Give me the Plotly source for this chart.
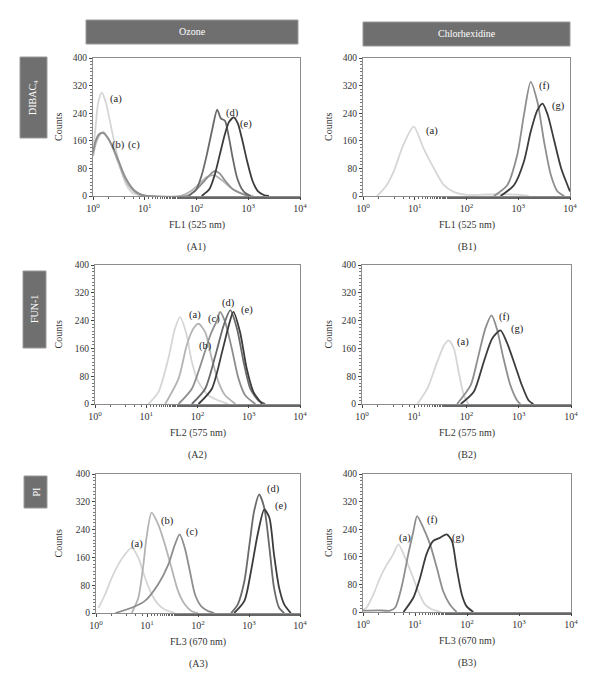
import plotly.graph_objects as go

# ---------------- data (x given as log10 of fluorescence, y = counts) ----------------
# A1  Ozone / DIBAC4  (FL1)
A1_a_log = [0.0, 0.05, 0.1, 0.17, 0.25, 0.35, 0.45, 0.55, 0.65, 0.75, 0.9, 1.2]
A1_a_cnt = [130, 200, 270, 300, 270, 200, 130, 70, 30, 10, 2, 0]
A1_b_log = [0.0, 0.05, 0.12, 0.2, 0.28, 0.38, 0.48, 0.6, 0.7, 0.8, 0.9, 1.0, 1.7, 1.9, 2.05, 2.2, 2.35, 2.5, 2.65, 2.8, 2.95, 3.1]
A1_b_cnt = [115, 150, 175, 185, 170, 140, 100, 55, 28, 12, 4, 0, 0, 15, 35, 55, 60, 45, 25, 12, 4, 0]
A1_c_log = [0.0, 0.05, 0.12, 0.2, 0.3, 0.4, 0.5, 0.6, 0.7, 0.8, 0.9, 1.05, 1.8, 1.95, 2.1, 2.25, 2.35, 2.45, 2.55, 2.7, 2.85, 3.0]
A1_c_cnt = [125, 160, 180, 182, 165, 135, 100, 62, 35, 16, 6, 0, 0, 12, 35, 60, 72, 65, 45, 20, 8, 0]
A1_d_log = [1.85, 2.0, 2.1, 2.2, 2.3, 2.4, 2.47, 2.55, 2.62, 2.7, 2.78, 2.87, 2.95, 3.05]
A1_d_cnt = [0, 20, 60, 120, 190, 250, 225, 218, 175, 110, 55, 22, 8, 0]
A1_e_log = [2.1, 2.25, 2.35, 2.45, 2.55, 2.63, 2.72, 2.8, 2.88, 2.98, 3.08, 3.18, 3.3, 3.4]
A1_e_cnt = [0, 20, 60, 120, 180, 215, 228, 210, 165, 100, 45, 15, 3, 0]

# B1  Chlorhexidine / DIBAC4  (FL1)
B1_a_log = [0.27, 0.45, 0.59, 0.78, 0.98, 1.17, 1.37, 1.56, 1.75, 2.0, 2.3, 2.6, 3.0, 3.2]
B1_a_cnt = [0, 30, 70, 148, 201, 138, 80, 32, 12, 3, 4, 5, 4, 0]
B1_f_log = [2.53, 2.79, 2.98, 3.11, 3.24, 3.37, 3.5, 3.63, 3.76, 3.89]
B1_f_cnt = [0, 32, 119, 235, 331, 273, 157, 61, 13, 0]
B1_g_log = [2.66, 2.92, 3.11, 3.24, 3.37, 3.47, 3.57, 3.7, 3.83, 3.95, 4.0]
B1_g_cnt = [0, 32, 100, 186, 249, 268, 235, 157, 80, 32, 13]

# A2  Ozone / FUN-1  (FL2)
A2_a_log = [1.04, 1.24, 1.43, 1.56, 1.66, 1.79, 1.89, 2.02, 2.21, 2.41, 2.6]
A2_a_cnt = [0, 35, 130, 217, 250, 198, 121, 63, 25, 10, 0]
A2_b_log = [1.37, 1.63, 1.79, 1.92, 2.02, 2.15, 2.28, 2.41, 2.54, 2.74]
A2_b_cnt = [0, 73, 169, 217, 231, 207, 130, 63, 25, 0]
A2_c_log = [1.63, 1.89, 2.08, 2.25, 2.38, 2.44, 2.54, 2.67, 2.8, 2.93, 3.13]
A2_c_cnt = [0, 44, 121, 198, 241, 265, 236, 159, 73, 25, 0]
A2_d_log = [1.89, 2.15, 2.35, 2.51, 2.64, 2.77, 2.9, 3.03, 3.19, 3.32]
A2_d_cnt = [0, 44, 140, 226, 270, 217, 121, 44, 10, 0]
A2_e_log = [2.02, 2.28, 2.48, 2.61, 2.7, 2.83, 2.96, 3.09, 3.26]
A2_e_cnt = [0, 44, 150, 226, 265, 207, 102, 35, 0]

# B2  Chlorhexidine / FUN-1  (FL2)
B2_a_log = [1.06, 1.25, 1.44, 1.57, 1.66, 1.76, 1.85, 1.95, 2.04]
B2_a_cnt = [0, 44, 121, 169, 183, 159, 92, 25, 0]
B2_f_log = [1.82, 2.08, 2.23, 2.36, 2.48, 2.58, 2.71, 2.84, 2.97, 3.03]
B2_f_cnt = [0, 54, 140, 217, 255, 217, 130, 54, 10, 0]
B2_g_log = [1.89, 2.14, 2.33, 2.49, 2.65, 2.77, 2.93, 3.06, 3.19, 3.28]
B2_g_cnt = [0, 35, 121, 188, 212, 178, 111, 54, 10, 0]

# A3  Ozone / PI  (FL3)
A3_a_log = [0.05, 0.18, 0.31, 0.44, 0.57, 0.7, 0.83, 0.96, 1.09, 1.22, 1.35, 1.55]
A3_a_cnt = [15, 54, 102, 140, 169, 188, 159, 102, 54, 25, 10, 0]
A3_b_log = [0.7, 0.83, 0.93, 0.99, 1.09, 1.22, 1.35, 1.48, 1.61, 1.74, 1.87, 2.0]
A3_b_cnt = [0, 44, 140, 217, 289, 255, 198, 130, 63, 25, 6, 0]
A3_c_log = [0.38, 0.7, 0.96, 1.22, 1.42, 1.55, 1.64, 1.74, 1.84, 1.94, 2.06, 2.19, 2.32]
A3_c_cnt = [0, 15, 35, 83, 140, 198, 226, 188, 121, 54, 20, 6, 0]
A3_d_log = [2.65, 2.78, 2.91, 3.01, 3.1, 3.2, 3.3, 3.4, 3.49, 3.59, 3.69]
A3_d_cnt = [0, 25, 92, 198, 293, 341, 302, 188, 73, 15, 0]
A3_e_log = [2.71, 2.91, 3.04, 3.17, 3.3, 3.4, 3.49, 3.59, 3.69, 3.82]
A3_e_cnt = [0, 35, 121, 226, 298, 274, 169, 73, 25, 0]

# B3  Chlorhexidine / PI  (FL3)
B3_a_log = [0.0, 0.07, 0.2, 0.33, 0.46, 0.58, 0.68, 0.81, 0.94, 1.06, 1.19, 1.32, 1.5]
B3_a_cnt = [6, 13, 51, 100, 138, 167, 196, 157, 109, 61, 22, 8, 0]
B3_f_log = [0.0, 0.3, 0.52, 0.62, 0.74, 0.87, 0.97, 1.04, 1.16, 1.29, 1.42, 1.54, 1.67, 1.8]
B3_f_cnt = [4, 5, 4, 13, 71, 167, 235, 278, 244, 196, 128, 61, 22, 0]
B3_g_log = [0.78, 0.97, 1.1, 1.22, 1.35, 1.48, 1.61, 1.71, 1.8, 1.9, 1.99, 2.12]
B3_g_cnt = [0, 42, 100, 167, 206, 215, 225, 206, 128, 51, 17, 0]

# curve labels: (text, log10 x, counts)
A1_labels = [("(a)", 0.45, 281), ("(b)", 0.49, 148), ("(c)", 0.80, 148), ("(d)", 2.69, 240), ("(e)", 2.96, 209)]
B1_labels = [("(a)", 1.34, 189), ("(f)", 3.50, 319), ("(g)", 3.77, 261)]
A2_labels = [("(a)", 1.96, 256), ("(b)", 2.16, 167), ("(c)", 2.33, 245), ("(d)", 2.60, 290), ("(e)", 2.96, 270)]
B2_labels = [("(a)", 1.94, 178), ("(f)", 2.72, 250), ("(g)", 2.97, 216)]
A3_labels = [("(a)", 0.80, 199), ("(b)", 1.40, 265), ("(c)", 1.89, 233), ("(d)", 3.49, 357), ("(e)", 3.62, 308)]
B3_labels = [("(a)", 0.81, 214), ("(f)", 1.33, 267), ("(g)", 1.83, 214)]

x_tick_vals = [1, 10, 100, 1000, 10000]
x_tick_text = ["10<sup>0</sup>", "10<sup>1</sup>", "10<sup>2</sup>", "10<sup>3</sup>", "10<sup>4</sup>"]
y_tick_vals = [0, 80, 160, 240, 320, 400]

column_titles = ["Ozone", "Chlorhexidine"]
row_titles = ["DIBAC<sub>4</sub>", "FUN-1", "PI"]
x_titles = ["FL1 (525 nm)", "FL2 (575 nm)", "FL3 (670 nm)"]

# ---------------- styles ----------------
W, H = 600, 688
FONT = "Liberation Serif, Times New Roman, serif"
shade = {"a": "#d6d6d6", "b": "#b4b4b4", "c": "#8e8e8e", "d": "#6a6a6a", "e": "#3c3c3c"}
shadeB = {"a": "#d6d6d6", "f": "#8e8e8e", "g": "#3c3c3c"}

def py(p):  # pixel from top -> paper y
    return 1 - p / H

def px(p):
    return p / W

panels = [
    ("A1", 0, 0, (93, 300), (58, 196),
     [("a", A1_a_log, A1_a_cnt), ("b", A1_b_log, A1_b_cnt), ("c", A1_c_log, A1_c_cnt),
      ("d", A1_d_log, A1_d_cnt), ("e", A1_e_log, A1_e_cnt)], A1_labels),
    ("B1", 1, 0, (363, 570), (58, 196),
     [("a", B1_a_log, B1_a_cnt), ("f", B1_f_log, B1_f_cnt), ("g", B1_g_log, B1_g_cnt)], B1_labels),
    ("A2", 0, 1, (95, 300), (265, 404),
     [("a", A2_a_log, A2_a_cnt), ("b", A2_b_log, A2_b_cnt), ("c", A2_c_log, A2_c_cnt),
      ("d", A2_d_log, A2_d_cnt), ("e", A2_e_log, A2_e_cnt)], A2_labels),
    ("B2", 1, 1, (362, 571), (265, 404),
     [("a", B2_a_log, B2_a_cnt), ("f", B2_f_log, B2_f_cnt), ("g", B2_g_log, B2_g_cnt)], B2_labels),
    ("A3", 0, 2, (96, 300), (474, 613),
     [("a", A3_a_log, A3_a_cnt), ("b", A3_b_log, A3_b_cnt), ("c", A3_c_log, A3_c_cnt),
      ("d", A3_d_log, A3_d_cnt), ("e", A3_e_log, A3_e_cnt)], A3_labels),
    ("B3", 1, 2, (363, 571), (474, 612),
     [("a", B3_a_log, B3_a_cnt), ("f", B3_f_log, B3_f_cnt), ("g", B3_g_log, B3_g_cnt)], B3_labels),
]

fig = go.Figure()
annotations = []
shapes = []
layout = dict(width=W, height=H, margin=dict(l=0, r=0, t=0, b=0, autoexpand=False),
              paper_bgcolor="white", plot_bgcolor="white", showlegend=False,
              font=dict(family=FONT, size=10, color="#333333"))

def paper_text(x, y, text, size=10, color="#333", angle=0):
    return dict(x=x, y=y, xref="paper", yref="paper", xanchor="center", yanchor="middle",
                text=text, textangle=angle, showarrow=False,
                font=dict(family=FONT, size=size, color=color))

for i, (name, col, row, xr, yr, curves, labels) in enumerate(panels):
    k = i + 1
    xa = "x" if k == 1 else f"x{k}"
    ya = "y" if k == 1 else f"y{k}"
    for key, lx, cnt in curves:
        fig.add_trace(go.Scatter(
            x=[10 ** v for v in lx], y=cnt, mode="lines",
            line=dict(color=(shade if col == 0 else shadeB)[key], width=1.8, shape="spline", smoothing=0.7),
            xaxis=xa, yaxis=ya, hoverinfo="skip"))
    layout[f"xaxis{k if k > 1 else ''}"] = dict(
        domain=[px(xr[0]), px(xr[1])], anchor=ya, type="log", range=[0, 4],
        tickvals=x_tick_vals, ticktext=x_tick_text, ticks="outside", ticklen=3,
        tickcolor="#444", showline=True, linecolor="#8c8c8c", linewidth=1, mirror=True,
        showgrid=False, zeroline=False, automargin=False, tickfont=dict(size=10, color="#333"),
        minor=dict(ticks="outside", ticklen=2, tickcolor="#666", showgrid=False))
    layout[f"yaxis{k if k > 1 else ''}"] = dict(
        domain=[py(yr[1]), py(yr[0])], anchor=xa, range=[0, 400],
        tickvals=y_tick_vals, ticks="outside", ticklen=3, tickcolor="#444",
        showline=True, linecolor="#8c8c8c", linewidth=1, mirror=True,
        showgrid=False, zeroline=False, automargin=False, tickfont=dict(size=9.5, color="#333"),
        minor=dict(ticks="outside", ticklen=2, dtick=10, tickcolor="#777", showgrid=False))
    for txt, lx, c in labels:
        annotations.append(dict(x=lx, y=c, xref=xa, yref=ya, text=txt, showarrow=False,
                                xanchor="center", yanchor="middle",
                                font=dict(family=FONT, size=10.5, color="#222")))
    xc = (xr[0] + xr[1]) / 2
    annotations.append(paper_text(px(xc), py(yr[1] + 29), x_titles[row]))
    annotations.append(paper_text(px(xc), py(yr[1] + 51), f"({name})"))
    annotations.append(paper_text(px(58 if col == 0 else 328), py((yr[0] + yr[1]) / 2),
                                  "Counts", angle=-90))

# column headers
for (x0, x1, y0, y1), t in zip([(86, 298, 20, 44), (363, 570, 22, 46)], column_titles):
    shapes.append(dict(type="rect", xref="paper", yref="paper", x0=px(x0), x1=px(x1),
                       y0=py(y1), y1=py(y0), fillcolor="#6f6f6f", line=dict(color="#9a9a9a", width=1)))
    annotations.append(paper_text(px((x0 + x1) / 2), py((y0 + y1) / 2), t, size=10, color="white"))

# row headers
for (x0, x1, y0, y1), t in zip([(20, 47, 57, 138), (23, 46, 271, 348), (24, 47, 476, 508)], row_titles):
    shapes.append(dict(type="rect", xref="paper", yref="paper", x0=px(x0), x1=px(x1),
                       y0=py(y1), y1=py(y0), fillcolor="#6f6f6f", line=dict(color="#9a9a9a", width=1)))
    annotations.append(paper_text(px((x0 + x1) / 2), py((y0 + y1) / 2), t, size=10,
                                  color="white", angle=-90))

layout["annotations"] = annotations
layout["shapes"] = shapes
fig.update_layout(**layout)
fig.write_html("out.html", config={"displayModeBar": False},
               post_script="document.body.style.margin='0';")
